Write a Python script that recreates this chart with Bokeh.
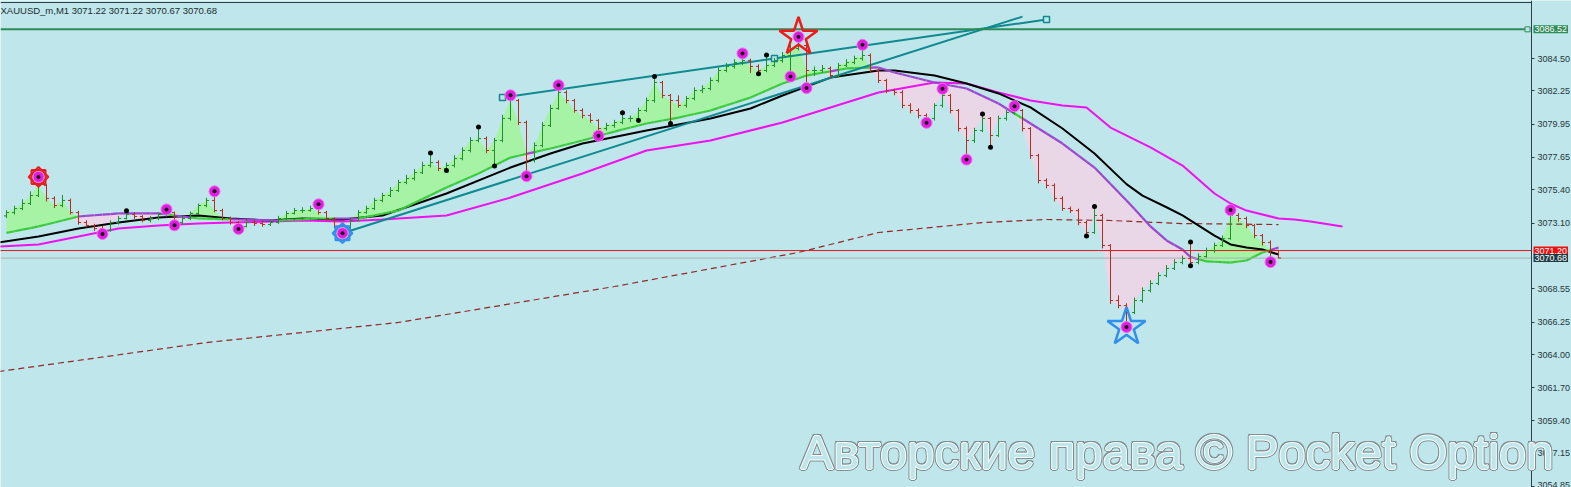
import numpy as np
from bokeh.plotting import figure
from bokeh.models import Range1d, FixedTicker, PrintfTickFormatter, Label
from bokeh.embed import file_html
from bokeh.resources import INLINE

header_text = "XAUUSD_m,M1  3071.22 3071.22 3070.67 3070.68"
watermark_text = "Авторские права © Pocket Option"

# ---- OHLC bars (M1) ----
first_open = 3073.60
close = [3073.83, 3074.11, 3074.46, 3075.01, 3075.71, 3074.81, 3074.32, 3074.67, 3073.83, 3073.14,
         3072.93, 3072.72, 3072.59, 3073.14, 3073.42, 3073.70, 3073.56, 3073.28, 3073.42, 3073.70,
         3073.83, 3073.14, 3073.42, 3073.77, 3074.32, 3074.67, 3073.97, 3073.42, 3073.14, 3072.86,
         3073.14, 3073.07, 3073.00, 3073.14, 3073.42, 3073.77, 3073.97, 3073.97, 3074.11, 3073.83,
         3073.42, 3072.86, 3072.72, 3073.28, 3073.83, 3074.11, 3074.67, 3075.01, 3075.36, 3075.91,
         3076.19, 3076.60, 3077.09, 3077.30, 3076.88, 3077.09, 3077.57, 3078.13, 3078.82, 3078.96,
         3078.13, 3078.82, 3080.35, 3081.59, 3080.07, 3077.44, 3078.47, 3079.86, 3081.04, 3082.15,
         3081.59, 3080.90, 3080.55, 3080.21, 3079.65, 3079.86, 3080.07, 3080.35, 3080.35, 3080.90,
         3081.59, 3082.84, 3081.94, 3081.59, 3081.25, 3081.73, 3082.28, 3082.42, 3082.98, 3083.67,
         3083.95, 3084.22, 3084.36, 3083.95, 3083.67, 3084.02, 3084.36, 3084.71, 3085.19, 3085.40,
         3083.67, 3083.67, 3083.81, 3083.32, 3084.02, 3084.22, 3084.50, 3084.71, 3083.67, 3082.98,
         3082.28, 3082.15, 3081.25, 3080.90, 3080.55, 3080.35, 3081.25, 3081.94, 3080.90, 3079.65,
         3078.82, 3079.51, 3080.35, 3079.17, 3080.35, 3080.76, 3080.90, 3079.65, 3077.78, 3076.05,
         3075.71, 3074.81, 3074.11, 3073.97, 3073.14, 3072.45, 3073.63, 3071.55, 3067.74, 3067.39,
         3066.91, 3067.74, 3068.43, 3068.92, 3069.47, 3069.96, 3070.37, 3070.65, 3070.37, 3070.79,
         3071.20, 3071.55, 3072.03, 3073.63, 3073.42, 3072.93, 3072.24, 3071.76, 3071.22, 3070.68]
high = [3074.00, 3074.30, 3074.75, 3075.30, 3076.30, 3075.80, 3074.95, 3075.05, 3074.80, 3073.95,
        3073.30, 3073.05, 3072.90, 3073.30, 3073.60, 3073.95, 3073.85, 3073.65, 3073.60, 3073.85,
        3074.05, 3073.90, 3073.55, 3073.90, 3074.45, 3074.85, 3075.30, 3074.10, 3073.55, 3073.25,
        3073.30, 3073.30, 3073.20, 3073.30, 3073.60, 3073.95, 3074.15, 3074.20, 3074.30, 3074.40,
        3073.95, 3073.50, 3073.00, 3073.40, 3074.00, 3074.30, 3074.85, 3075.20, 3075.60, 3076.10,
        3076.45, 3076.85, 3077.35, 3077.95, 3077.45, 3077.30, 3077.80, 3078.35, 3079.05, 3079.75,
        3079.10, 3079.00, 3080.60, 3081.95, 3081.70, 3080.20, 3078.70, 3080.10, 3081.30, 3082.65,
        3082.30, 3081.70, 3081.05, 3080.70, 3080.30, 3080.05, 3080.25, 3080.75, 3080.55, 3081.10,
        3081.80, 3083.25, 3082.95, 3082.05, 3081.95, 3081.90, 3082.50, 3082.65, 3083.20, 3083.90,
        3084.20, 3084.45, 3084.85, 3084.50, 3084.10, 3084.75, 3084.55, 3084.95, 3085.45, 3086.00,
        3085.50, 3083.95, 3084.05, 3083.95, 3084.20, 3084.45, 3084.70, 3085.45, 3084.85, 3083.80,
        3083.10, 3082.40, 3082.30, 3081.40, 3081.05, 3080.70, 3081.40, 3082.40, 3082.05, 3081.00,
        3079.80, 3079.70, 3080.65, 3080.45, 3080.55, 3080.95, 3081.20, 3081.00, 3079.75, 3077.90,
        3076.20, 3075.85, 3074.95, 3074.25, 3074.10, 3073.25, 3074.25, 3073.75, 3071.65, 3068.10,
        3067.55, 3067.95, 3068.65, 3069.15, 3069.70, 3070.20, 3070.60, 3070.85, 3071.80, 3071.00,
        3071.40, 3071.75, 3072.25, 3074.00, 3073.80, 3073.55, 3073.05, 3072.35, 3071.90, 3071.22]
low = [3073.45, 3073.70, 3074.00, 3074.35, 3074.90, 3074.60, 3074.15, 3074.20, 3073.70, 3073.00,
       3072.80, 3072.55, 3072.35, 3072.50, 3073.00, 3073.35, 3073.40, 3073.15, 3073.15, 3073.30,
       3073.55, 3072.95, 3073.00, 3073.30, 3073.65, 3074.20, 3073.85, 3073.30, 3073.00, 3072.70,
       3072.80, 3072.90, 3072.85, 3072.90, 3073.05, 3073.35, 3073.70, 3073.80, 3073.90, 3073.70,
       3073.30, 3072.75, 3072.40, 3072.65, 3073.20, 3073.75, 3074.00, 3074.55, 3074.90, 3075.25,
       3075.80, 3076.05, 3076.50, 3076.95, 3076.70, 3076.75, 3076.95, 3077.45, 3078.00, 3078.70,
       3077.95, 3077.05, 3078.70, 3080.20, 3079.90, 3076.35, 3077.30, 3078.35, 3079.75, 3080.95,
       3081.40, 3080.75, 3080.35, 3080.05, 3079.15, 3079.50, 3079.70, 3079.95, 3080.10, 3080.20,
       3080.80, 3081.45, 3081.75, 3080.00, 3081.10, 3081.10, 3081.60, 3082.10, 3082.30, 3082.85,
       3083.55, 3083.80, 3084.05, 3083.50, 3083.45, 3083.55, 3083.90, 3084.20, 3083.25, 3085.05,
       3082.45, 3083.30, 3083.50, 3083.10, 3083.20, 3083.90, 3084.10, 3084.35, 3083.50, 3082.80,
       3082.10, 3081.95, 3081.05, 3080.70, 3080.35, 3080.05, 3080.20, 3081.10, 3080.70, 3079.45,
       3077.50, 3078.65, 3079.40, 3078.35, 3079.05, 3080.20, 3080.60, 3079.45, 3077.55, 3075.85,
       3075.50, 3074.60, 3073.95, 3073.80, 3072.95, 3072.20, 3072.35, 3071.35, 3067.50, 3067.20,
       3065.90, 3066.80, 3067.60, 3068.30, 3068.80, 3069.35, 3069.85, 3070.25, 3070.15, 3070.25,
       3070.70, 3071.05, 3071.45, 3071.95, 3073.20, 3072.75, 3072.05, 3071.55, 3070.40, 3070.67]

# ---- moving averages (bar index, price) ----
ma_fast_t = [-1, 4, 9, 14, 19, 24, 29, 34, 39, 44, 49, 55, 59, 63, 68, 72, 76, 80, 84, 88, 93, 97, 100,
             105, 109, 111, 116, 120, 124, 128, 132, 136, 140, 143, 145, 147, 148, 150, 153, 155, 157, 159]
ma_fast_p = [3072.31, 3072.87, 3073.56, 3073.77, 3073.77, 3073.42, 3073.35, 3073.28, 3073.42, 3073.42,
             3073.97, 3075.57, 3076.54, 3077.64, 3078.27, 3078.82, 3079.44, 3080.00, 3080.41, 3080.90,
             3081.80, 3082.77, 3083.32, 3083.81, 3083.88, 3083.53, 3082.84, 3082.42, 3081.38, 3080.00,
             3078.61, 3076.95, 3074.67, 3072.87, 3071.90, 3071.27, 3070.75, 3070.45, 3070.37, 3070.51,
             3071.07, 3071.41]
ma_mid_t = [-1, 4, 9, 14, 19, 24, 28, 33, 37, 42, 47, 55, 63, 68, 72, 80, 88, 93, 97, 103, 109, 111,
            116, 120, 124, 128, 132, 136, 140, 142, 145, 147, 151, 153, 155, 157, 159]
ma_mid_p = [3071.76, 3072.17, 3072.73, 3073.14, 3073.49, 3073.63, 3073.42, 3073.28, 3073.42, 3073.35,
            3073.63, 3075.15, 3076.95, 3077.92, 3078.61, 3079.51, 3080.34, 3081.04, 3081.94, 3083.18,
            3083.67, 3083.67, 3083.32, 3082.77, 3082.08, 3081.11, 3079.65, 3077.92, 3075.80, 3075.00,
            3074.20, 3073.63, 3072.24, 3071.62, 3071.41, 3071.27, 3070.93]
ma_slow_t = [-1, 4, 9, 14, 19, 24, 28, 33, 37, 42, 47, 55, 63, 72, 80, 88, 97, 103, 109, 116, 120, 124,
             128, 132, 135, 138, 143, 147, 151, 153, 155, 159, 161, 163, 167]
ma_slow_p = [3071.48, 3071.62, 3072.17, 3072.73, 3072.93, 3073.07, 3073.14, 3073.21, 3073.28, 3073.21,
             3073.35, 3073.63, 3074.87, 3076.54, 3078.13, 3078.82, 3080.07, 3081.11, 3082.15, 3082.84,
             3082.77, 3082.15, 3081.59, 3081.25, 3081.11, 3079.72, 3078.34, 3077.09, 3075.15, 3074.46,
             3073.97, 3073.42, 3073.35, 3073.21, 3072.87]
ma_long_t = [-1, 25, 49, 76, 99, 109, 122, 130, 138, 147, 159]
ma_long_p = [3062.82, 3064.83, 3066.22, 3068.71, 3071.07, 3072.45, 3073.14, 3073.35, 3073.28, 3073.07,
             3073.00]

# ---- trend lines (bar index, price) ----
trend_a_t = [62, 96, 130]
trend_a_p = [3081.80, 3084.50, 3087.20]
trend_b_t = [42, 127]
trend_b_p = [3072.40, 3087.40]

# ---- price levels ----
level_green = 3086.52
level_ask = 3071.20
level_bid = 3070.68
price_ticks = [3084.50, 3082.25, 3079.95, 3077.65, 3075.40, 3073.10, 3068.55, 3066.25,
               3064.00, 3061.70, 3059.40, 3057.15, 3054.85]

# ---- signal markers (bar indices) ----
fractal_up = [4, 20, 26, 39, 63, 69, 92, 99, 107, 117, 126, 153]
fractal_dn = [12, 21, 29, 42, 65, 74, 98, 100, 115, 120, 140, 158]
dot_up = [15, 53, 59, 77, 81, 95, 122, 136, 148]
dot_dn = [55, 61, 79, 83, 94, 123, 135, 148]
gear_up = [4]
gear_dn = [42]
star_up = [99]
star_dn = [140]

BG = "#BFE6EA"
AXIS = "#2A3F46"
W, H = 1571, 487
T0, T_AXIS, T1 = -0.75, 190.625, 195.625      # left edge, price-scale line, right edge (bar units)
P0, P1 = 3054.791, 3088.517

p = figure(width=W, height=H, output_backend="svg", toolbar_location=None,
           x_axis_location=None, y_axis_location="right", title=None,
           x_range=Range1d(T0, T1), y_range=Range1d(P0, P1),
           min_border_left=0, min_border_top=0, min_border_bottom=0, min_border_right=0)
p.background_fill_color = BG
p.border_fill_color = BG
p.outline_line_color = None
p.xgrid.visible = False
p.ygrid.visible = False

ax = p.yaxis[0]
ax.fixed_location = T_AXIS
ax.ticker = FixedTicker(ticks=price_ticks)
ax.formatter = PrintfTickFormatter(format="%.2f")
ax.axis_line_color = AXIS
ax.major_tick_line_color = AXIS
ax.major_tick_out = 3
ax.major_tick_in = 0
ax.minor_tick_line_color = None
ax.major_label_standoff = 3
ax.major_label_text_font = "Liberation Sans"
ax.major_label_text_font_size = "9px"
ax.major_label_text_color = "#26363C"

t = np.arange(len(close))
c = np.array(close)
hi = np.array(high)
lo = np.array(low)
o = np.array([first_open] + close[:-1])

# window top border
p.segment(x0=[T0], y0=[P1 - 0.14], x1=[T_AXIS], y1=[P1 - 0.14], line_color=AXIS, line_width=1)

# fills between price and fast MA
mf = np.interp(t, ma_fast_t, ma_fast_p)
p.varea(x=t, y1=mf, y2=np.maximum(c, mf), fill_color="#A6F3A6")
p.varea(x=t, y1=np.minimum(c, mf), y2=mf, fill_color="#E9D6E7")

# long dashed MA
p.line(ma_long_t, ma_long_p, line_color="#8E2A2A", line_width=1.2, line_dash="6 4")
# slow magenta / mid black MAs
p.line(ma_slow_t, ma_slow_p, line_color="#F010F0", line_width=2)
p.line(ma_mid_t, ma_mid_p, line_color="#000000", line_width=2)
# fast MA, coloured by position of price
seg_col = ["#3CCB3C" if c[i] >= mf[i] else "#9A48CE" for i in range(len(t) - 1)]
p.segment(x0=t[:-1], y0=mf[:-1], x1=t[1:], y1=mf[1:], line_color=seg_col, line_width=2.2)

# trend lines
p.line(trend_a_t, trend_a_p, line_color="#0E8A90", line_width=2)
p.line(trend_b_t, trend_b_p, line_color="#0E8A90", line_width=2)
p.scatter(trend_a_t, trend_a_p, marker="square", size=6, line_color="#0E8A90",
          fill_color=BG, line_width=1.5)

# horizontal levels
p.segment(x0=[T0], y0=[level_green], x1=[T_AXIS - 0.5], y1=[level_green], line_color="#2E8B57", line_width=2)
p.segment(x0=[T0], y0=[level_ask], x1=[T_AXIS], y1=[level_ask], line_color="#E01818", line_width=1)
p.segment(x0=[T0], y0=[level_bid], x1=[T_AXIS], y1=[level_bid], line_color="#A9B2B4", line_width=1)
p.scatter([T_AXIS - 0.5], [level_green], marker="square", size=5, line_color="#2E8B57", fill_color=BG)

# bars
bar_col = ["#1F8F2A" if c[i] >= o[i] else "#B0301E" for i in range(len(t))]
p.segment(x0=t, y0=lo, x1=t, y1=hi, line_color=bar_col, line_width=1)
p.segment(x0=t - 0.32, y0=o, x1=t, y1=o, line_color=bar_col, line_width=1)
p.segment(x0=t, y0=c, x1=t + 0.32, y1=c, line_color=bar_col, line_width=1)

# gears (sun shaped)
for idx, ys, col in ((gear_up, hi, "#E81E1E"), (gear_dn, lo, "#2F8FEA")):
    xs = np.array(idx)
    yv = ys[xs]
    p.scatter(xs, yv, marker="square", size=14, angle=0, line_color=col, fill_color=None, line_width=2)
    p.scatter(xs, yv, marker="square", size=14, angle=np.pi / 4, line_color=col, fill_color=None, line_width=2)
    p.scatter(xs, yv, marker="circle", size=14, line_color=col, fill_color="white", line_width=2)

# stars
p.scatter(np.array(star_up), hi[star_up], marker="star", size=40, line_color="#F01A1A",
          fill_color=None, line_width=2.5)
p.scatter(np.array(star_dn), lo[star_dn], marker="star", size=40, line_color="#2F8FEA",
          fill_color=None, line_width=2.5)

# fractal markers
fx = np.array(fractal_up + fractal_dn)
fy = np.concatenate([hi[fractal_up], lo[fractal_dn]])
p.scatter(fx, fy, marker="circle", size=11, fill_color="#E01CE0", line_color="#F070F0", line_width=1)
p.scatter(fx, fy, marker="circle", size=4, fill_color="#1A0A1A", line_color=None)
dx = np.array(dot_up + dot_dn)
dy = np.concatenate([hi[dot_up], lo[dot_dn]])
p.scatter(dx, dy, marker="circle", size=5, fill_color="#000000", line_color=None)

# price boxes on the scale
def price_box(y, text, bg, fg):
    p.add_layout(Label(x=T_AXIS + 0.25, y=y, text=text, text_font="Liberation Sans", text_font_size="9px",
                       text_color=fg, text_baseline="middle", background_fill_color=bg,
                       padding=1))

price_box(level_green, "3086.52", "#2E8B57", "white")
price_box(level_ask, "3071.20", "#F01010", "white")
price_box(level_bid, "3070.68", "#1F3C44", "white")

# header
p.add_layout(Label(x=0, y=H - 4, x_units="screen", y_units="screen", text=header_text,
                   text_font="Liberation Sans", text_font_size="9.5px", text_color="#1C2A30",
                   text_baseline="top"))

# watermark (hollow outlined text)
wm = dict(x=99.25, y=3057.25, text=watermark_text, text_font="Liberation Sans",
          text_font_size="49px", text_baseline="alphabetic")
for ox, oy in ((-2, 0), (2, 0), (0, -2), (0, 2), (-1.5, -1.5), (1.5, 1.5), (-1.5, 1.5), (1.5, -1.5)):
    p.add_layout(Label(x_offset=ox, y_offset=oy, text_color="#7E8E92", **wm))
for ox, oy in ((-1, 0), (1, 0), (0, -1), (0, 1)):
    p.add_layout(Label(x_offset=ox, y_offset=oy, text_color="#FFFFFF", **wm))
p.add_layout(Label(text_color=BG, **wm))

open("out.html", "w").write(file_html(p, INLINE))
